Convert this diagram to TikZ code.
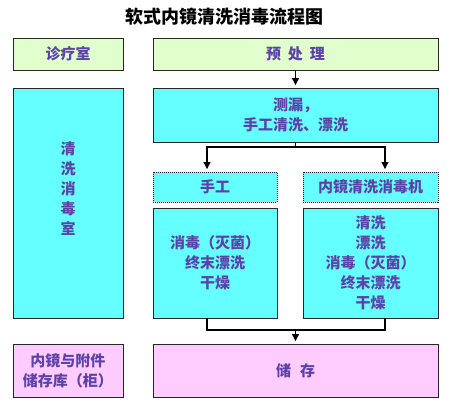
\documentclass[tikz,border=0pt]{standalone}
\usepackage{fontspec}
\setmainfont{Noto Sans CJK SC}
\usetikzlibrary{arrows.meta}
\definecolor{boxgreen}{RGB}{224,255,204}
\definecolor{boxcyan}{RGB}{102,255,255}
\definecolor{boxpink}{RGB}{255,204,255}
\definecolor{ink}{RGB}{92,66,168}

\begin{document}
\begin{tikzpicture}[x=1pt, y=-1pt,
        cbox/.style={draw=black!85, line width=0.9pt, inner sep=0pt, align=center, text=ink, font=\fontsize{15}{20}\selectfont\bfseries},
        cdots/.style={cbox, dash pattern=on 1pt off 1pt},
        cline/.style={-, line width=1.1pt},
        carrow/.style={cline, -{Triangle[width=7pt, length=7pt]}, shorten >=2.5pt}]
    \useasboundingbox (0,0) rectangle (453,405);

    % Заголовок:
    \node[font=\fontsize{18}{22}\selectfont\bfseries] (title) at (224,17) {软式内镜清洗消毒流程图};

    % Левая колонка:
    \node[cbox, fill=boxgreen, minimum width=110pt, minimum height=32pt] (clinic) at (68,54) {诊疗室};
    \node[cbox, fill=boxcyan, minimum width=110pt, minimum height=230pt, text depth=30pt] (washroom) at (68,203) {清\\洗\\消\\毒\\室};
    \node[cbox, fill=boxpink, minimum width=110pt, minimum height=53pt] (cabinet) at (68,370.5) {内镜与附件\\储存库（柜）};

    % Правая колонка:
    \node[cbox, fill=boxgreen, minimum width=285pt, minimum height=32pt] (pre) at (295.5,54) {预\hspace{7pt}处\hspace{7pt}理};
    \node[cbox, fill=boxcyan, minimum width=285pt, minimum height=54pt] (leak) at (295.5,115) {测漏，\\手工清洗、漂洗};

    \node[cdots, fill=boxcyan, minimum width=124pt, minimum height=30pt] (hand) at (215,187) {手工};
    \node[cdots, fill=boxcyan, minimum width=135pt, minimum height=30pt] (machine) at (370.5,187) {内镜清洗消毒机};

    \node[cbox, fill=boxcyan, minimum width=124pt, minimum height=110pt] (handsteps) at (215,263) {消毒（灭菌）\\终末漂洗\\干燥};
    \node[cbox, fill=boxcyan, minimum width=135pt, minimum height=110pt] (machinesteps) at (370.5,263) {清洗\\漂洗\\消毒（灭菌）\\终末漂洗\\干燥};

    \node[cbox, fill=boxpink, minimum width=285pt, minimum height=53pt] (store) at (295.5,370.5) {储\hspace{9pt}存};

    % Стрелки:
    \draw[carrow] (pre) -- (leak);

    \coordinate (split) at (leak.south |- 0,147);
    \draw[cline] (leak.south) -- (split);
    \draw[carrow] (split) -| ([xshift=-8pt]hand.north);
    \draw[carrow] (split) -| ([xshift=14.5pt]machine.north);

    \coordinate (merge) at (store.north |- 0,330);
    \draw[cline] ([xshift=-8pt]handsteps.south) |- (merge) -| ([xshift=14.5pt]machinesteps.south);
    \draw[carrow] (merge) -- (store);
\end{tikzpicture}
\end{document}
